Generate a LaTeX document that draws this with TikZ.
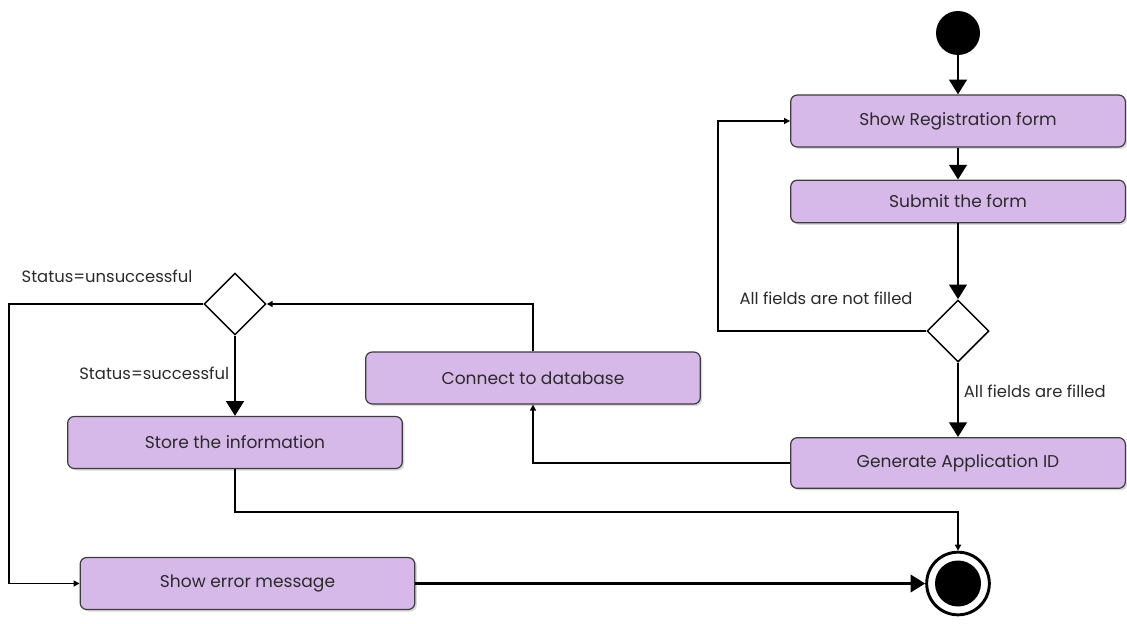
\documentclass[tikz,border=0pt]{standalone}
\usepackage{fontspec}
\setmainfont{Poppins}
\usepackage{xcolor}
\usetikzlibrary{shapes.geometric,arrows.meta,positioning,shadows}
\definecolor{actfill}{HTML}{D7B9E9}
\definecolor{actdraw}{HTML}{3C3C3C}
\definecolor{acttext}{HTML}{2A2A2A}

\begin{document}
\begin{tikzpicture}[
  x=0.75pt, y=-0.75pt,
  act/.style={draw=actdraw, line width=0.9pt, rounded corners=5pt, fill=actfill, text=acttext, text centered, minimum width=251pt, minimum height=39pt, font=\fontsize{12.8}{15}\selectfont, drop shadow={shadow xshift=1.5pt, shadow yshift=-1.5pt, opacity=0.3}},
  choice/.style={draw, diamond, line width=1.1pt, fill=white, minimum width=46.5pt, minimum height=46.5pt, inner sep=0pt},
  flow/.style={draw, line width=2.2pt, -{Triangle[length=11pt, width=13pt]}},
  link/.style={draw, line width=1.4pt, -{Triangle[length=4.5pt, width=4.5pt]}},
  lbl/.style={text=acttext, font=\fontsize{12.3}{14}\selectfont}
]
\useasboundingbox (0,0) rectangle (1127,624);

% Registration
\node[circle, fill=black, minimum size=33pt, inner sep=0pt] (start) at (958,33) {};
\node[act] (showform) at (958,121) {Show Registration form};
\node[act, minimum height=32pt] (submit) at (958,201.5) {Submit the form};
\node[choice] (check) at (958,331) {};
\node[act, minimum height=38pt] (genid) at (958,463) {Generate Application ID};

% Storage
\node[act] (connectdb) at (533,378) {Connect to database};
\node[choice] (status) at (235,304) {};
\node[act] (store) at (235,442.5) {Store the information};
\node[act] (showerror) at (247.5,583.5) {Show error message};

% End
\node[circle, draw, line width=2.2pt, minimum size=47pt, inner sep=0pt] (stop) at (958,583.5) {};
\fill (stop.center) circle (17.25pt);

% Connectors
\draw[flow] (start) -- (showform);
\draw[flow] (showform) -- (submit);
\draw[flow] (submit) -- (check);
\draw[flow] (check) -- node[lbl, right, pos=0.38] {All fields are filled} (genid);
\draw[link] (check.west) -- ++(-208,0) |- (showform.west);
\node[lbl] (notfilled) at (826,298) {All fields are not filled};

\draw[link] (genid.west) -| (connectdb.south);
\draw[link] (connectdb.north) |- (status.east);
\draw[flow] (status) -- node[lbl, left, pos=0.47] {Status=successful} (store);
\draw[link] (status.west) -- ++(-194,0) |- (showerror.west);
\node[lbl] (unsuccessful) at (107,276) {Status=unsuccessful};

\draw[link] (store.south) -- ++(0,43) -| (stop.north);
\draw[flow] (showerror) -- (stop);

\end{tikzpicture}
\end{document}
